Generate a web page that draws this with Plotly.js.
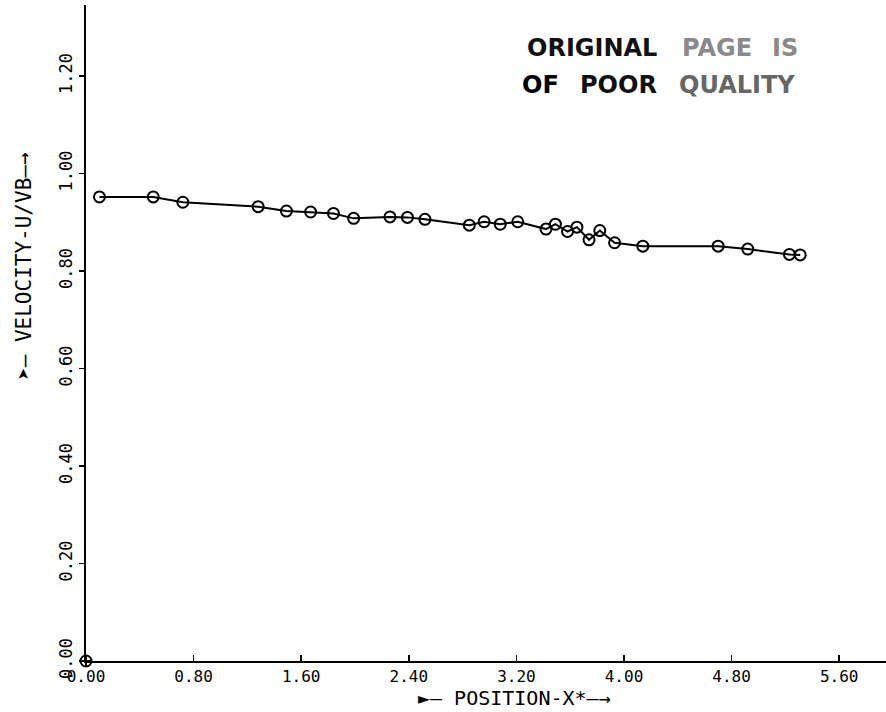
<!DOCTYPE html>
<html>
<head>
<meta charset="utf-8">
<script src="https://cdn.plot.ly/plotly-3.0.1.min.js"></script>
<style>html,body{margin:0;padding:0;background:#fff;}#chart{width:886px;height:712px;}</style>
</head>
<body>
<div id="chart"></div>
<script>
// Data
const positionX = [0.10, 0.50, 0.72, 1.28, 1.49, 1.67, 1.84, 1.99, 2.26, 2.39, 2.52, 2.85, 2.96, 3.08, 3.21, 3.42, 3.49, 3.58, 3.65, 3.74, 3.82, 3.93, 4.14, 4.70, 4.92, 5.23, 5.31];
const velocityU = [0.952, 0.952, 0.941, 0.932, 0.923, 0.921, 0.918, 0.908, 0.911, 0.910, 0.906, 0.894, 0.901, 0.896, 0.901, 0.886, 0.896, 0.881, 0.890, 0.864, 0.883, 0.858, 0.851, 0.851, 0.845, 0.834, 0.833];
const originX = [0.0];
const originY = [0.0];
const xTicks = [0.0, 0.8, 1.6, 2.4, 3.2, 4.0, 4.8, 5.6];
const yTicks = [0.0, 0.2, 0.4, 0.6, 0.8, 1.0, 1.2];
const xTitle = "►— POSITION-X*—→";
const yTitle = "➤— VELOCITY-U/VB—→";

const L = 86, T = 5, W = 886, H = 712, B = 51;
const plotW = W - L, plotH = H - T - B;
const px = x => (x - L) / plotW;
const py = y => (H - B - y) / plotH;

const mono = "DejaVu Sans Mono, Liberation Mono, monospace";
const stamp = (text, x, y, color) => ({
  text: text, xref: 'paper', yref: 'paper', x: px(x), y: py(y),
  xanchor: 'left', yanchor: 'middle', showarrow: false,
  font: {family: 'DejaVu Sans, Liberation Sans, sans-serif', size: 24, color: color, weight: 'bold'}
});

const traces = [
  {x: positionX, y: velocityU, mode: 'lines+markers', type: 'scatter',
   line: {color: '#000', width: 2},
   marker: {symbol: 'circle-open', size: 11, color: '#000', line: {width: 2, color: '#000'}},
   showlegend: false, cliponaxis: false},
  {x: originX, y: originY, mode: 'markers', type: 'scatter',
   marker: {symbol: 'circle-cross-open', size: 11, color: '#000', line: {width: 2, color: '#000'}},
   showlegend: false, cliponaxis: false}
];

const layout = {
  width: W, height: H,
  margin: {l: L, r: 0, t: T, b: B, pad: 0},
  paper_bgcolor: '#fff', plot_bgcolor: '#fff',
  showlegend: false,
  xaxis: {
    range: [0, plotW / 134.5], tickvals: xTicks, tickformat: '.2f',
    ticks: 'inside', ticklen: 6, tickwidth: 1.5, tickcolor: '#000',
    showline: true, linecolor: '#000', linewidth: 2,
    showgrid: false, zeroline: false,
    tickfont: {family: mono, size: 16, color: '#000'}
  },
  yaxis: {
    range: [0, plotH / 487.5], tickvals: yTicks, tickformat: '.2f', tickangle: -90,
    ticks: 'outside', ticklen: 5, tickwidth: 1.5, tickcolor: '#000',
    showline: true, linecolor: '#000', linewidth: 2,
    showgrid: false, zeroline: false,
    tickfont: {family: mono, size: 17, color: '#000'}
  },
  annotations: [
    {text: xTitle, xref: 'paper', yref: 'paper', x: px(514), y: py(698),
     xanchor: 'center', yanchor: 'middle', showarrow: false,
     font: {family: mono, size: 20, color: '#000'}},
    {text: yTitle, xref: 'paper', yref: 'paper', x: px(24), y: py(266), textangle: -90,
     xanchor: 'center', yanchor: 'middle', showarrow: false,
     font: {family: mono, size: 21, color: '#000'}},
    stamp('ORIGINAL', 525, 48, '#111'),
    stamp('PAGE', 680, 48, '#8a8a8a'),
    stamp('IS', 770, 48, '#8a8a8a'),
    stamp('OF', 520, 85, '#000'),
    stamp('POOR', 578, 85, '#111'),
    stamp('QUALITY', 677, 85, '#666')
  ]
};

Plotly.newPlot('chart', traces, layout, {staticPlot: true, displayModeBar: false});
</script>
</body>
</html>
